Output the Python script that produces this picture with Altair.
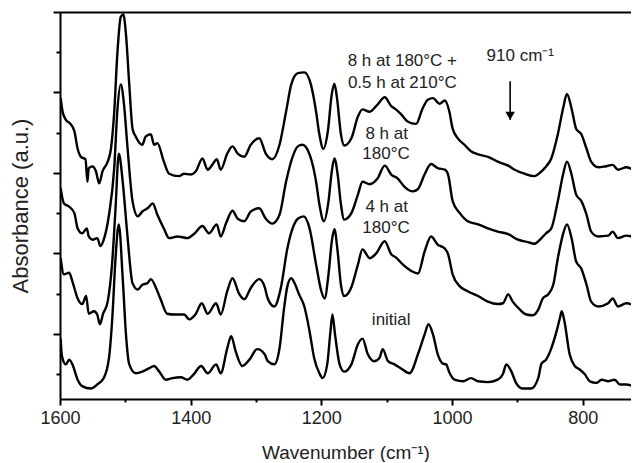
import altair as alt
import pandas as pd

# ---- data ----
wn_a = [1599,1596,1591,1584,1578,1573,1568,1561,1558,1556,
        1550,1545,1540,1535,1527,1522,1517,1512,1507,1503,
        1499,1494,1489,1484,1474,1469,1461,1456,1451,1441,
        1433,1418,1410,1400,1392,1382,1374,1367,1360,1354,
        1344,1336,1328,1318,1308,1295,1285,1275,1264,1254,
        1246,1236,1226,1216,1208,1203,1197,1190,1184,1180,
        1176,1170,1165,1154,1144,1137,1126,1114,1103,1093,
        1086,1078,1068,1055,1045,1037,1029,1019,1011,1004,
        999,991,981,971,960,945,930,914,904,889,
        874,863,856,848,838,830,824,817,810,802,
        794,787,776,766,754,746,733,723,713]
ab_a = [3.93,3.76,3.66,3.61,3.52,3.30,3.20,3.17,2.89,3.06,
        3.08,3.02,2.87,3.02,3.14,3.30,3.76,4.51,4.94,4.97,
        4.72,4.10,3.55,3.45,3.35,3.45,3.48,3.35,3.37,3.14,
        2.99,2.96,2.99,2.98,3.02,3.18,3.04,3.10,3.17,3.04,
        3.24,3.33,3.24,3.20,3.35,3.43,3.24,3.17,3.35,3.76,
        4.10,4.24,4.25,4.10,3.76,3.48,3.30,3.52,3.98,4.11,
        3.93,3.48,3.34,3.43,3.70,3.79,3.76,3.85,3.94,3.83,
        3.79,3.73,3.64,3.61,3.80,3.91,3.93,3.86,3.90,3.76,
        3.55,3.43,3.35,3.27,3.23,3.20,3.14,3.09,3.04,2.99,
        2.96,3.02,3.08,3.18,3.48,3.80,3.98,3.80,3.55,3.48,
        3.30,3.14,3.07,3.08,3.10,3.04,3.07,3.04,2.98]

wn_b = [1599,1594,1586,1578,1573,1566,1559,1556,1550,1543,
        1538,1533,1525,1517,1512,1507,1502,1497,1489,1481,
        1474,1466,1458,1451,1441,1433,1420,1405,1395,1382,
        1372,1360,1354,1346,1336,1328,1318,1308,1295,1285,
        1275,1264,1254,1244,1236,1229,1218,1208,1203,1196,
        1189,1184,1180,1175,1170,1165,1154,1144,1137,1126,
        1114,1103,1093,1083,1073,1060,1052,1042,1032,1022,
        1011,1006,999,988,976,960,945,930,914,899,
        884,874,863,856,848,838,830,824,817,810,
        802,794,787,776,761,754,746,733,720,713]
ab_b = [2.81,2.62,2.58,2.50,2.31,2.25,2.31,2.21,2.17,2.19,
        2.09,2.17,2.48,3.06,3.80,4.10,3.85,3.35,2.65,2.46,
        2.52,2.56,2.62,2.48,2.31,2.19,2.21,2.19,2.24,2.34,
        2.25,2.36,2.21,2.37,2.53,2.43,2.40,2.52,2.56,2.43,
        2.37,2.48,2.89,3.20,3.33,3.35,3.23,2.89,2.61,2.40,
        2.65,3.02,3.18,2.98,2.61,2.42,2.50,2.73,2.89,2.86,
        2.93,3.09,2.98,2.93,2.83,2.77,2.80,2.98,3.11,3.06,
        3.04,2.98,2.65,2.50,2.40,2.36,2.31,2.27,2.24,2.17,
        2.14,2.12,2.19,2.25,2.31,2.65,2.98,3.14,2.98,2.73,
        2.65,2.48,2.27,2.21,2.22,2.27,2.19,2.22,2.19,2.12]

wn_c = [1599,1594,1586,1581,1573,1566,1560,1556,1548,1543,
        1539,1534,1527,1520,1515,1510,1504,1497,1489,1481,
        1474,1466,1461,1453,1446,1436,1425,1410,1402,1392,
        1383,1374,1361,1354,1344,1336,1326,1318,1308,1295,
        1287,1282,1272,1262,1252,1244,1236,1227,1218,1208,
        1200,1195,1189,1184,1180,1175,1170,1165,1154,1144,
        1137,1126,1116,1103,1093,1086,1075,1062,1052,1042,
        1032,1022,1011,1006,999,988,976,960,945,930,
        922,914,907,896,886,876,868,861,853,845,
        838,830,824,817,810,802,794,787,776,761,
        754,746,733,720,713]
ab_c = [1.94,1.74,1.76,1.65,1.44,1.37,1.47,1.25,1.28,1.24,
        1.12,1.25,1.40,1.90,2.56,3.24,2.89,2.24,1.63,1.55,
        1.61,1.63,1.68,1.57,1.43,1.25,1.24,1.24,1.18,1.25,
        1.38,1.25,1.38,1.24,1.53,1.69,1.50,1.43,1.57,1.68,
        1.59,1.44,1.34,1.57,2.06,2.31,2.43,2.46,2.31,1.86,
        1.53,1.44,1.74,2.15,2.30,2.02,1.61,1.47,1.58,1.86,
        2.05,1.94,2.00,2.15,1.99,1.95,1.86,1.78,1.75,2.02,
        2.21,2.11,2.06,1.99,1.74,1.59,1.53,1.47,1.40,1.37,
        1.38,1.49,1.40,1.30,1.24,1.23,1.30,1.44,1.49,1.61,
        1.94,2.24,2.36,2.19,1.90,1.81,1.61,1.40,1.34,1.38,
        1.44,1.34,1.38,1.34,1.25]

wn_d = [1599,1597,1591,1586,1581,1573,1566,1553,1543,1533,
        1525,1520,1515,1510,1504,1499,1494,1484,1474,1464,
        1456,1448,1438,1428,1415,1405,1395,1384,1374,1361,
        1354,1344,1338,1331,1321,1310,1298,1287,1282,1272,
        1264,1257,1252,1246,1241,1234,1226,1218,1211,1203,
        1198,1191,1186,1183,1179,1172,1165,1154,1144,1137,
        1129,1119,1111,1106,1098,1088,1078,1065,1052,1042,
        1036,1029,1022,1014,1009,1004,996,983,971,960,
        945,930,922,917,909,902,892,879,868,863,
        856,848,840,835,832,828,820,812,805,797,
        789,779,771,761,751,743,733,723,715]
ab_d = [0.94,0.72,0.62,0.68,0.62,0.43,0.35,0.32,0.37,0.45,
        0.70,1.19,1.94,2.36,1.69,0.99,0.62,0.51,0.53,0.57,
        0.60,0.53,0.43,0.45,0.46,0.43,0.50,0.60,0.51,0.62,
        0.51,0.82,0.97,0.78,0.60,0.68,0.81,0.75,0.66,0.62,
        0.82,1.32,1.59,1.69,1.63,1.49,1.34,1.03,0.70,0.51,
        0.45,0.62,1.03,1.24,0.99,0.62,0.53,0.62,0.87,0.94,
        0.75,0.66,0.70,0.81,0.66,0.62,0.57,0.51,0.75,0.99,
        1.12,0.99,0.75,0.63,0.62,0.52,0.43,0.41,0.45,0.41,
        0.40,0.43,0.50,0.62,0.53,0.39,0.32,0.32,0.45,0.63,
        0.68,0.82,1.03,1.19,1.28,1.16,0.75,0.60,0.56,0.50,
        0.41,0.39,0.43,0.41,0.43,0.37,0.37,0.35,0.32]

series_names = ["8 h at 180°C + 0.5 h at 210°C", "8 h at 180°C", "4 h at 180°C", "initial"]

x_ticks = [1600, 1500, 1400, 1300, 1200, 1100, 1000, 900, 800]
y_ticks = [0.5, 1, 1.5, 2, 2.5, 3, 3.5, 4, 4.5, 5]

label_text = ["8 h at 180°C +", "0.5 h at 210°C", "8 h at", "180°C", "4 h at", "180°C", "initial"]
label_wn = [1076, 1076, 1100, 1101, 1100, 1101, 1093]
label_ab = [4.385, 4.118, 3.484, 3.230, 2.571, 2.317, 1.174]

marker_text = ["910 cm⁻¹"]
marker_wn = [947]
marker_ab = [4.447]

arrow_wn = [911]
arrow_top = [4.14]
arrow_tip = [3.66]
arrow_head = [3.71]

# ---- tables ----
frames = []
for name, w, a in zip(series_names, [wn_a, wn_b, wn_c, wn_d], [ab_a, ab_b, ab_c, ab_d]):
    frames.append(pd.DataFrame({"wn": w, "ab": a, "series": name}))
spectra = pd.concat(frames, ignore_index=True)

labels_df = pd.DataFrame({"text": label_text, "wn": label_wn, "ab": label_ab})
marker_df = pd.DataFrame({"text": marker_text, "wn": marker_wn, "ab": marker_ab})
arrow_df = pd.DataFrame({"wn": arrow_wn, "ab": arrow_top, "ab2": arrow_tip})
head_df = pd.DataFrame({"wn": arrow_wn, "ab": arrow_head})

FONT = "Liberation Sans, Arial, Helvetica, sans-serif"
TXT = "#222222"

x_scale = alt.Scale(domain=[1600, 726], nice=False, zero=False)
y_scale = alt.Scale(domain=[0.19, 5.0], nice=False, zero=False)

lines = alt.Chart(spectra).mark_line(
    color="black", strokeWidth=2.4, clip=True, interpolate="monotone"
).encode(
    x=alt.X("wn:Q", scale=x_scale, axis=alt.Axis(
        values=x_ticks,
        format="d",
        labelFlush=False,
        labelExpr="datum.value % 200 === 0 ? datum.label : ''",
        tickSize={"condition": {"test": "datum.value % 200 === 0", "value": 6}, "value": 3},
        title="Wavenumber (cm⁻¹)",
    )),
    y=alt.Y("ab:Q", scale=y_scale, axis=alt.Axis(
        values=y_ticks,
        labels=False,
        tickSize={"condition": {"test": "datum.value % 1 === 0", "value": 7}, "value": 4},
        title="Absorbance (a.u.)",
    )),
    detail="series:N",
)

arrow = alt.Chart(arrow_df).mark_rule(color="black", strokeWidth=1.6).encode(
    x=alt.X("wn:Q", scale=x_scale, axis=alt.Axis(
        orient="top", labels=False, ticks=False, title=None, domain=True)),
    y=alt.Y("ab:Q", scale=y_scale),
    y2="ab2:Q",
)

head = alt.Chart(head_df).mark_point(
    shape="triangle-down", filled=True, color="black", size=90, opacity=1
).encode(
    x=alt.X("wn:Q", scale=x_scale, axis=None),
    y=alt.Y("ab:Q", scale=y_scale),
)

labels = alt.Chart(labels_df).mark_text(
    font=FONT, fontSize=17, color=TXT, align="center", baseline="middle"
).encode(
    x=alt.X("wn:Q", scale=x_scale, axis=None),
    y=alt.Y("ab:Q", scale=y_scale),
    text="text:N",
)

marker = alt.Chart(marker_df).mark_text(
    font=FONT, fontSize=17, color=TXT, align="left", baseline="middle"
).encode(
    x=alt.X("wn:Q", scale=x_scale, axis=None),
    y=alt.Y("ab:Q", scale=y_scale),
    text="text:N",
)

chart = alt.layer(lines, arrow, head, labels, marker).resolve_scale(
    x="shared", y="shared"
).resolve_axis(x="independent").properties(
    width=571, height=387,
    padding={"left": 1, "top": 3, "right": 0, "bottom": 0},
).configure_view(stroke=None).configure_axis(
    domainColor="black", domainWidth=2, tickColor="black", tickWidth=2,
    labelFont=FONT, labelFontSize=18, labelColor=TXT, labelPadding=4,
    titleFont=FONT, titleFontWeight="normal", titleColor=TXT, grid=False,
).configure_axisX(titleFontSize=19, titlePadding=16).configure_axisY(
    titleFontSize=22, titlePadding=20)

chart.save("out.html", embed_options={"renderer": "svg", "actions": False})
